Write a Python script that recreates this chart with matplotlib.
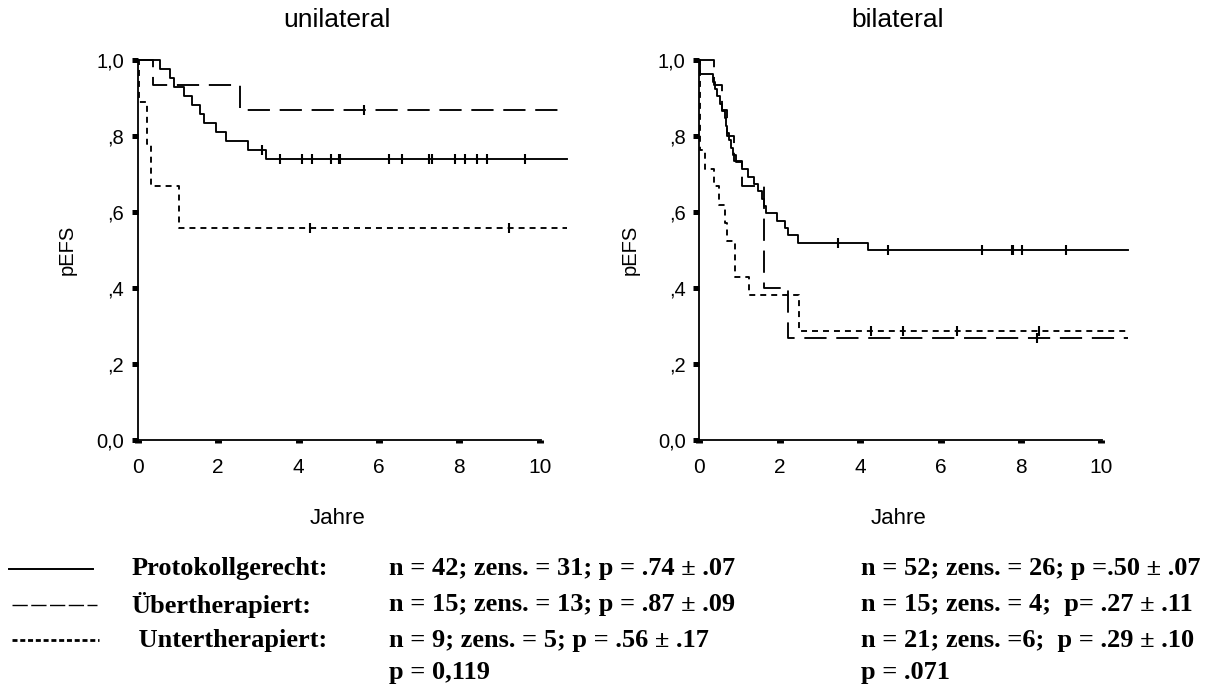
"""
Kaplan-Meier-Kurven pEFS: unilateral vs. bilateral, nach Therapiegruppe
"""

import matplotlib

matplotlib.use('Agg')
import matplotlib.pyplot as plt
from matplotlib.lines import Line2D

plt.rcParams['font.family'] = ['Liberation Sans', 'DejaVu Sans']
plt.rcParams['lines.scale_dashes'] = False

# ---- unilateral ----
uni_proto_t = [0.56, 0.81, 0.91, 1.14, 1.34, 1.55, 1.65, 1.95, 2.20, 2.75, 3.19]
uni_proto_s = [0.976, 0.952, 0.929, 0.905, 0.881, 0.857, 0.833, 0.810, 0.786, 0.762, 0.738]
uni_proto_c = [3.09, 3.55, 4.09, 4.34, 4.80, 5.00, 5.03, 6.24, 6.58, 7.25, 7.31,
               7.89, 8.14, 8.45, 8.68, 9.63]

uni_ueber_t = [0.39, 2.55]
uni_ueber_s = [0.933, 0.867]
uni_ueber_c = [5.64]

uni_unter_t = [0.02, 0.22, 0.32, 1.03]
uni_unter_s = [0.889, 0.778, 0.667, 0.556]
uni_unter_c = [4.29, 9.23]

# ---- bilateral ----
bi_proto_t = [0.02, 0.33, 0.38, 0.45, 0.52, 0.57, 0.63, 0.67, 0.70, 0.75, 0.80, 0.85,
              0.92, 1.05, 1.20, 1.35, 1.45, 1.55, 1.62, 1.66, 1.93, 2.14, 2.20, 2.45, 4.20]
bi_proto_s = [0.962, 0.942, 0.923, 0.904, 0.885, 0.865, 0.846, 0.827, 0.808, 0.788,
              0.769, 0.750, 0.731, 0.712, 0.692, 0.673, 0.654, 0.635, 0.615, 0.596,
              0.577, 0.558, 0.538, 0.519, 0.500]
bi_proto_c = [3.44, 4.69, 7.02, 7.77, 7.81, 8.02, 9.11]

bi_ueber_t = [0.36, 0.56, 0.69, 0.87, 1.06, 1.62, 2.21]
bi_ueber_s = [0.933, 0.867, 0.800, 0.733, 0.667, 0.400, 0.267]
bi_ueber_c = [8.40]

bi_unter_t = [0.01, 0.15, 0.36, 0.50, 0.65, 0.70, 0.90, 1.23, 2.48]
bi_unter_s = [0.762, 0.714, 0.667, 0.619, 0.571, 0.524, 0.429, 0.381, 0.286]
bi_unter_c = [4.27, 5.07, 6.42, 8.44]

y_ticks = [0.0, 0.2, 0.4, 0.6, 0.8, 1.0]
y_ticklabels = ['0,0', ',2', ',4', ',6', ',8', '1,0']
x_ticks = [0, 2, 4, 6, 8, 10]

legend_names = ['Protokollgerecht:', 'Übertherapiert:', ' Untertherapiert:']
uni_stats = ['n = 42; zens. = 31; p = .74 ± .07',
             'n = 15; zens. = 13; p = .87 ± .09',
             'n = 9; zens. = 5; p = .56 ± .17',
             'p = 0,119']
bi_stats = ['n = 52; zens. = 26; p =.50 ± .07',
            'n = 15; zens. = 4;  p= .27 ± .11',
            'n = 21; zens. =6;  p = .29 ± .10',
            'p = .071']

SOLID = '-'
LONG = (0, (16, 7))
SHORT = (0, (4.3, 3.6))
T_END = 10.67
W, H = 1213, 686
LW = 1.35


def level_at(times, levels, t):
    s = 1.0
    for ti, si in zip(times, levels):
        if ti <= t:
            s = si
    return s


def km_curve(ax, times, levels, cens, style):
    xs = [0.0] + times + [T_END]
    ys = [1.0] + levels + [levels[-1]]
    ax.step(xs, ys, where='post', color='black', lw=LW, linestyle=style, clip_on=False)
    cy = [level_at(times, levels, c) for c in cens]
    ax.plot(cens, cy, linestyle='none', marker='|', ms=7, mew=1.5,
            color='black', clip_on=False)


def style_axes(ax):
    ax.set_xlim(0, T_END)
    ax.set_ylim(0, 1)
    ax.spines['top'].set_visible(False)
    ax.spines['right'].set_visible(False)
    ax.spines['left'].set_linewidth(1.3)
    ax.spines['bottom'].set_linewidth(1.3)
    ax.spines['bottom'].set_bounds(0, 10.02)
    ax.set_yticks(y_ticks)
    ax.set_yticklabels(y_ticklabels)
    ax.set_xticks(x_ticks)
    ax.tick_params(axis='y', direction='out', length=4.3, width=3.6, pad=5.5, labelsize=14.5)
    ax.tick_params(axis='x', direction='out', length=2, width=5, pad=11, labelsize=15)


fig = plt.figure(figsize=(W / 100, H / 100), dpi=100)
ax1 = fig.add_axes([137.7 / W, 1 - 439.5 / H, 429 / W, 379.5 / H])
ax2 = fig.add_axes([699.3 / W, 1 - 439.5 / H, 429 / W, 379.5 / H])

km_curve(ax1, uni_proto_t, uni_proto_s, uni_proto_c, SOLID)
km_curve(ax1, uni_ueber_t, uni_ueber_s, uni_ueber_c, LONG)
km_curve(ax1, uni_unter_t, uni_unter_s, uni_unter_c, SHORT)

km_curve(ax2, bi_proto_t, bi_proto_s, bi_proto_c, SOLID)
km_curve(ax2, bi_ueber_t, bi_ueber_s, bi_ueber_c, LONG)
km_curve(ax2, bi_unter_t, bi_unter_s, bi_unter_c, SHORT)

for ax in (ax1, ax2):
    style_axes(ax)

# Titel, Achsenbeschriftungen
fig.text(337 / W, 1 - 20 / H, 'unilateral', ha='center', va='center', fontsize=19)
fig.text(898 / W, 1 - 20 / H, 'bilateral', ha='center', va='center', fontsize=19)
fig.text(67 / W, 1 - 250 / H, 'pEFS', ha='center', va='center', rotation=90, fontsize=14.5)
fig.text(630 / W, 1 - 250 / H, 'pEFS', ha='center', va='center', rotation=90, fontsize=14.5)
fig.text(338 / W, 1 - 519 / H, 'Jahre', ha='center', va='center', fontsize=16)
fig.text(899 / W, 1 - 519 / H, 'Jahre', ha='center', va='center', fontsize=16)

# Legende unten
row_y = [569, 605, 640, 673]
sample_x = [(9, 93), (12, 97), (12, 99)]
sample_ls = [SOLID, (0, (11, 2.5)), (0, (3.6, 2))]
sample_lw = [1.4, 1.0, 2.0]
for i in range(3):
    x0, x1 = sample_x[i]
    fig.add_artist(Line2D([x0 / W, x1 / W], [1 - row_y[i] / H] * 2,
                          transform=fig.transFigure, color='black',
                          lw=sample_lw[i], linestyle=sample_ls[i]))

serif = dict(family=['Liberation Serif', 'DejaVu Serif'], fontweight='bold',
             fontsize=19, va='center', ha='left')
for i, name in enumerate(legend_names):
    fig.text(131.5 / W, 1 - row_y[i] / H, name, **serif)
for i, s in enumerate(uni_stats):
    fig.text(389 / W, 1 - row_y[i] / H, s, **serif)
for i, s in enumerate(bi_stats):
    fig.text(861 / W, 1 - row_y[i] / H, s, **serif)

plt.savefig('out.png', dpi=100)
plt.close()
